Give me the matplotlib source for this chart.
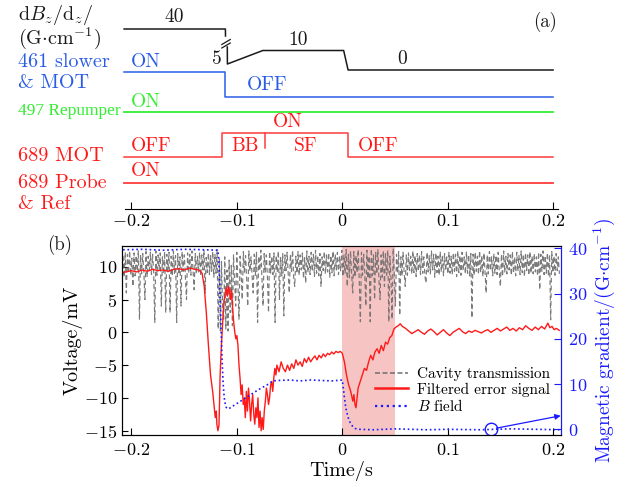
import matplotlib.pyplot as plt
import numpy as np

plt.rcParams['font.family'] = 'serif'
plt.rcParams['font.serif'] = ['cmr10']
plt.rcParams['mathtext.fontset'] = 'cm'
plt.rcParams['axes.formatter.use_mathtext'] = True

# ---------------- panel (a): timing sequence ----------------
# levels are schematic heights (pixel rows counted from the top of panel a)
grad_t1 = [-0.207, -0.1109, -0.1108]
grad_y1 = [29, 29, 36]
grad_t2 = [-0.1091, -0.1090, -0.0754, 0.0013, 0.0055, 0.2]
grad_y2 = [47, 64, 50.5, 50.5, 70, 70]
slower_t = [-0.207, -0.1112, -0.1112, 0.2]
slower_y = [72, 72, 97, 97]
repump_t = [-0.207, 0.2]
repump_y = [112, 112]
mot_t = [-0.207, -0.1137, -0.1137, 0.0058, 0.0058, 0.2]
mot_y = [157, 157, 133, 133, 157, 157]
bb_sf_t = [-0.0736, -0.0736]
bb_sf_y = [133, 148]
probe_t = [-0.207, 0.2]
probe_y = [183, 183]

# ---------------- panel (b): measured signals ----------------
# cavity transmission (mV), uniformly sampled from -0.208 s to 0.206 s
cavity_v = [
    11.6, 8.4, 12.2, 6.0, 11.9, 9.0, 12.4, 8.7, 11.3, 7.0,
    12.1, 8.6, 11.7, 9.3, 12.5, 2.0, 11.8, 8.9, 12.0, 9.2,
    5.0, 12.3, 8.5, 11.6, 9.4, 12.2, 8.8, 11.9, 9.1, 1.5,
    12.4, 8.7, 11.8, 9.6, 12.1, 4.0, 11.5, 8.9, 12.3, 3.0,
    11.9, 9.2, 12.2, 3.0, 11.6, 8.6, 12.4, 9.0, 11.7, 1.5,
    12.0, 8.8, 11.5, 4.0, 12.3, 9.3, 11.8, 8.5, 5.0, 12.1,
    9.0, 11.9, 8.7, 12.4, 9.4, 6.5, 12.0, 8.9, 11.6, 9.2,
    12.2, 8.6, 11.8, 9.5, 12.5, 6.0, 11.4, 9.1, 12.1, 8.8,
    11.7, 9.3, 12.3, 8.4, 11.9, 9.0, 12.6, 0.5, 11.2, 0.2,
    10.8, 4.0, 2.0, 11.5, 0.5, 9.5, 0.2, 11.0, 3.0, 10.2,
    1.0, 11.8, 8.0, 4.0, 12.2, 7.5, 2.0, 11.6, 8.8, 5.0,
    12.3, 9.0, 11.7, 8.2, 4.0, 12.4, 9.3, 11.5, 8.6, 6.0,
    11.9, 8.7, 12.2, 1.5, 11.6, 9.4, 12.5, 8.3, 4.0, 12.0,
    9.1, 11.8, 8.5, 3.0, 12.3, 9.0, 11.6, 8.8, 12.1, 1.5,
    11.7, 9.2, 12.4, 5.0, 11.5, 8.6, 12.0, 2.5, 11.8, 9.4,
    12.2, 8.9, 6.0, 11.9, 9.3, 12.5, 8.4, 7.0, 11.6, 9.0,
    12.3, 8.7, 11.8, 9.5, 12.1, 8.2, 11.4, 7.5, 12.4, 9.1,
    11.6, 8.8, 12.2, 9.3, 11.9, 8.5, 12.5, 9.0, 11.7, 8.6,
    12.0, 7.0, 11.5, 9.4, 12.3, 8.9, 11.8, 9.2, 12.1, 8.4,
    11.7, 9.1, 12.4, 8.6, 11.9, 9.5, 12.2, 8.8, 11.6, 9.3,
    12.5, 8.5, 11.8, 9.0, 12.6, 7.0, 11.9, 8.3, 12.4, 8.9,
    6.0, 12.3, 8.4, 11.7, 9.1, 12.6, 7.8, 1.6, 12.2, 8.7,
    11.9, 9.0, 4.0, 12.5, 8.2, 11.6, 1.6, 12.7, 8.6, 11.8,
    5.0, 12.2, 8.9, 12.6, 7.9, 5.0, 11.8, 8.4, 12.4, 7.0,
    12.0, 8.7, 12.5, 1.6, 11.6, 8.3, 2.0, 12.8, 8.8, 4.0,
    11.9, 9.0, 12.3, 2.6, 11.5, 8.6, 12.2, 9.2, 7.0, 11.8,
    8.7, 12.1, 9.4, 11.6, 8.9, 12.4, 9.1, 11.7, 8.5, 12.0,
    9.3, 11.8, 8.8, 12.3, 9.0, 11.5, 8.6, 7.5, 12.2, 9.2,
    11.7, 8.9, 12.4, 9.5, 11.9, 8.4, 12.1, 9.1, 11.6, 8.7,
    12.3, 9.2, 11.8, 8.6, 12.0, 9.4, 11.5, 8.9, 12.2, 9.0,
    11.6, 8.8, 12.1, 9.3, 11.9, 8.5, 12.4, 9.1, 11.7, 8.7,
    12.2, 9.4, 11.5, 8.9, 12.3, 9.0, 11.8, 8.6, 12.0, 2.2,
    11.9, 8.7, 12.2, 9.3, 11.6, 8.8, 12.4, 9.1, 11.7, 8.5,
    12.1, 9.2, 6.0, 11.8, 8.9, 12.3, 9.4, 11.5, 8.6, 12.0,
    9.0, 11.7, 8.8, 12.2, 9.3, 7.0, 11.9, 8.5, 12.4, 9.1,
    11.6, 8.9, 12.0, 9.5, 11.8, 8.7, 12.3, 9.0, 11.5, 8.6,
    12.2, 9.3, 11.7, 8.8, 12.4, 9.1, 11.9, 8.5, 12.1, 9.4,
    11.8, 8.7, 12.3, 9.0, 11.6, 8.9, 12.0, 9.2, 11.5, 8.6,
    12.2, 6.5, 11.9, 9.3, 12.4, 8.8, 11.7, 9.0, 12.1, 8.5,
    11.8, 1.9, 12.3, 9.1, 11.6, 8.7, 12.0, 9.4, 11.5, 8.9,
]

# filtered error signal (mV)
err_t = [
    -0.208, -0.200, -0.195, -0.190, -0.185, -0.180, -0.175, -0.170, -0.165, -0.160,
    -0.155, -0.150, -0.145, -0.140, -0.136, -0.133, -0.131, -0.129, -0.127, -0.125,
    -0.123, -0.1215, -0.1205, -0.1195, -0.119, -0.118, -0.117, -0.1165, -0.116, -0.115,
    -0.114, -0.113, -0.112, -0.111, -0.110, -0.109, -0.108, -0.107, -0.106, -0.105,
    -0.104, -0.103, -0.102, -0.101, -0.100, -0.099, -0.098, -0.097, -0.096, -0.095,
    -0.094, -0.093, -0.092, -0.091, -0.090, -0.089, -0.088, -0.087, -0.086, -0.085,
    -0.084, -0.083, -0.082, -0.081, -0.080, -0.079, -0.078, -0.077, -0.076, -0.075,
    -0.074, -0.073, -0.072, -0.071, -0.070, -0.069, -0.068, -0.067, -0.066, -0.065,
    -0.064, -0.063, -0.062, -0.060, -0.058, -0.056, -0.054, -0.052, -0.050, -0.048,
    -0.046, -0.044, -0.042, -0.040, -0.038, -0.036, -0.034, -0.032, -0.030, -0.028,
    -0.026, -0.024, -0.022, -0.020, -0.018, -0.016, -0.014, -0.012, -0.010, -0.008,
    -0.006, -0.004, -0.002, 0.000, 0.002, 0.004, 0.006, 0.008, 0.010, 0.011,
    0.012, 0.013, 0.014, 0.015, 0.017, 0.019, 0.021, 0.023, 0.025, 0.027,
    0.029, 0.031, 0.033, 0.035, 0.037, 0.039, 0.041, 0.043, 0.045, 0.047,
    0.049, 0.051, 0.053, 0.055, 0.057, 0.060, 0.063, 0.066, 0.069, 0.072,
    0.075, 0.078, 0.081, 0.084, 0.087, 0.090, 0.093, 0.096, 0.099, 0.102,
    0.105, 0.108, 0.111, 0.114, 0.117, 0.120, 0.123, 0.126, 0.129, 0.132,
    0.135, 0.138, 0.141, 0.144, 0.147, 0.150, 0.153, 0.156, 0.159, 0.162,
    0.165, 0.168, 0.171, 0.174, 0.177, 0.180, 0.183, 0.186, 0.189, 0.192,
    0.195, 0.197, 0.199, 0.201, 0.203, 0.206,
]
err_v = [
    9.1, 9.4, 9.2, 9.5, 9.3, 9.6, 9.4, 9.5, 9.3, 9.6,
    9.7, 9.5, 9.8, 9.6, 9.5, 9.0, 7.0, 3.0, -2.0, -6.5,
    -9.0, -11.5, -13.0, -12.0, -14.0, -15.0, -14.2, -11.0, -7.0, -3.0,
    0.0, 3.0, 5.0, 6.0, 6.8, 5.5, 7.0, 6.2, 5.0, 6.5,
    3.5, 1.5, 0.0, -1.0, -0.5, -2.0, -5.0, -7.0, -9.5, -8.0,
    -11.0, -10.0, -13.0, -9.0, -12.0, -8.5, -10.5, -13.5, -11.0, -9.5,
    -12.5, -14.0, -11.5, -13.0, -10.0, -14.5, -12.0, -15.0, -13.0, -14.8,
    -12.0, -10.5, -8.5, -9.5, -11.0, -10.0, -8.0, -7.5, -9.0, -7.0,
    -5.5, -6.5, -5.0, -6.0, -4.5, -5.5, -6.0, -5.0, -5.8, -4.8,
    -5.5, -4.2, -5.0, -4.5, -5.2, -4.0, -4.6, -3.8, -4.5, -4.0,
    -3.6, -4.2, -3.5, -3.9, -3.3, -3.7, -3.2, -3.4, -3.0, -3.3,
    -2.9, -3.1, -2.9, -3.2, -4.5, -6.5, -8.0, -9.0, -10.5, -9.5,
    -11.0, -11.5, -10.0, -8.5, -7.5, -6.5, -5.5, -5.8, -4.5, -3.5,
    -4.2, -3.0, -2.5, -3.2, -2.0, -2.8, -1.5, -1.8, -0.8, -0.5,
    0.5, 0.8, 1.0, 1.3, 0.9, 0.6, 0.2, -0.2, 0.1, 0.4,
    0.0, -0.3, 0.2, 0.5, 0.1, -0.4, 0.0, 0.4, -0.1, -0.5,
    0.0, 0.3, 0.6, 0.1, -0.2, 0.2, 0.0, 0.3, 0.1, -0.1,
    0.2, 0.4, 0.0, 0.3, 0.6, 0.2, 0.5, 0.8, 0.3, 0.6,
    0.2, 0.7, 0.4, 1.0, 0.6, 0.3, 0.8, 0.4, 0.9, 0.5,
    1.4, 0.7, 0.9, 0.4, 0.6, 0.3,
]

# magnetic gradient (G/cm)
bfield_t = [-0.208, -0.19, -0.17, -0.15, -0.13, -0.118, -0.117, -0.116, -0.115, -0.114,
            -0.113, -0.112, -0.111, -0.110, -0.109, -0.108, -0.100, -0.090, -0.080, -0.070,
            -0.066, -0.060, -0.050, -0.040, -0.030, -0.020, -0.010, 0.000, 0.001, 0.002,
            0.003, 0.004, 0.006, 0.008, 0.010, 0.012, 0.015, 0.030, 0.050, 0.080,
            0.100, 0.130, 0.160, 0.206]
bfield_v = [39.7, 39.8, 39.6, 39.8, 39.7, 39.6, 37.0, 30.0, 22.0, 15.0,
            10.0, 7.0, 5.5, 4.8, 4.6, 4.5, 5.7, 7.2, 8.7, 10.0,
            10.7, 10.8, 10.9, 10.7, 10.9, 10.8, 10.7, 10.9, 9.0, 7.0,
            5.3, 4.0, 2.3, 1.2, 0.6, 0.2, 0.0, -0.1, 0.1, -0.1,
            0.0, -0.1, 0.1, -0.1]

time_ticks = [-0.2, -0.1, 0, 0.1, 0.2]
time_labels = ['$-0.2$', '$-0.1$', '$0$', '$0.1$', '$0.2$']
shade_span = (0.0, 0.0503)

W, H = 632, 487
BLACK = '#1a1a1a'
BLUE_A = '#2b5ce6'
GREEN = '#33ee33'
RED_A = '#ff3b3b'
RED = '#ff1a1a'
BLUE = '#1a1aff'
GRAY = '#6c6c6c'
TICK_FS = 13


def px(x, y):
    # pixel position (from top-left) -> figure fraction
    return x / W, 1 - y / H


def draw_timing(ax):
    ax.plot(grad_t1, grad_y1, color=BLACK, lw=1.1)
    ax.plot(grad_t2, grad_y2, color=BLACK, lw=1.1)
    # break marks on the gradient step
    tb = grad_t1[-1]
    for dy in (0, 3.5):
        ax.plot([tb - 0.0035, tb + 0.0045], [44.5 + dy, 39.5 + dy], color=BLACK, lw=0.9)
    ax.plot(slower_t, slower_y, color=BLUE_A, lw=1.1)
    ax.plot(repump_t, repump_y, color=GREEN, lw=1.3)
    ax.plot(mot_t, mot_y, color=RED_A, lw=1.1)
    ax.plot(bb_sf_t, bb_sf_y, color=RED_A, lw=1.1)
    ax.plot(probe_t, probe_y, color=RED_A, lw=1.3)

    fs = 14
    kw = dict(ha='center', va='center', fontsize=fs)
    ax.text(-0.159, 17, '40', color=BLACK, **kw)
    ax.text(-0.119, 59, '5', color=BLACK, **kw)
    ax.text(-0.0423, 40, '10', color=BLACK, **kw)
    ax.text(0.0565, 59, '0', color=BLACK, **kw)
    ax.text(-0.1866, 62, 'ON', color=BLUE_A, **kw)
    ax.text(-0.0717, 85, 'OFF', color=BLUE_A, **kw)
    ax.text(-0.1866, 102, 'ON', color=GREEN, **kw)
    ax.text(-0.0518, 122, 'ON', color=RED, **kw)
    ax.text(-0.1809, 146, 'OFF', color=RED, **kw)
    ax.text(-0.0926, 146, 'BB', color=RED, **kw)
    ax.text(-0.0347, 146, 'SF', color=RED, **kw)
    ax.text(0.0337, 146, 'OFF', color=RED, **kw)
    ax.text(-0.1866, 171, 'ON', color=RED, **kw)
    ax.text(0.1925, 22, '(a)', color=BLACK, ha='center', va='center', fontsize=13.5)

    ax.set_xlim(-0.209, 0.2075)
    ax.set_ylim(209, 0)
    for s in ('top', 'left', 'right'):
        ax.spines[s].set_visible(False)
    ax.spines['bottom'].set_bounds(-0.2065, 0.2045)
    ax.set_yticks([])
    ax.set_xticks(time_ticks, time_labels)
    ax.tick_params(axis='x', direction='in', length=5, pad=3, labelsize=TICK_FS)


fig = plt.figure(figsize=(W / 100, H / 100), dpi=100)

ax_a = fig.add_axes([122 / W, 1 - 209 / H, 439 / W, 209 / H])
draw_timing(ax_a)

# row labels of panel (a)
lab = dict(ha='left', va='center', fontsize=14.5)
fig.text(*px(18, 15), r'd$B_z$/d$_z$/', color=BLACK, **lab)
fig.text(*px(18, 38), r'(G$\cdot$cm$^{-1}$)', color=BLACK, **lab)
fig.text(*px(18, 62), '461 slower', color=BLUE_A, **lab)
fig.text(*px(18, 83), '& MOT', color=BLUE_A, **lab)
fig.text(*px(18, 111), '497 Repumper', color=GREEN, ha='left', va='center',
         fontsize=12.5, family='Liberation Serif')
fig.text(*px(18, 156), '689 MOT', color=RED, **lab)
fig.text(*px(18, 183), '689 Probe', color=RED, **lab)
fig.text(*px(18, 204), '& Ref', color=RED, **lab)
fig.text(*px(60, 245), '(b)', color=BLACK, ha='center', va='center', fontsize=13.5)

# ---------------- panel (b) ----------------
ax = fig.add_axes([122 / W, 52 / H, 439 / W, 189.3 / H])
ax2 = ax.twinx()

cavity_t = np.linspace(-0.208, 0.206, len(cavity_v))
ax.axvspan(*shade_span, color='#f7c4c4', lw=0, zorder=0)
l1, = ax.plot(cavity_t, cavity_v, color=GRAY, lw=0.85, ls=(0, (4, 2.5)), alpha=0.9,
              label='Cavity transmission')
l2, = ax.plot(err_t, err_v, color=RED, lw=1.0, label='Filtered error signal')
l3, = ax2.plot(bfield_t, bfield_v, color=BLUE, lw=1.2, ls=':', label='$B$ field')

# marker on the B-field baseline with arrow to the right axis
ax2.plot([0.1415], [0.0], marker='o', ms=9, mfc='none', mec=BLUE, mew=1.0)
ax2.annotate('', xy=(0.2072, 3.0), xytext=(0.1462, 0.25),
             arrowprops=dict(arrowstyle='-|>', color=BLUE, lw=0.9,
                             mutation_scale=8, shrinkA=0, shrinkB=0))

ax.set_xlim(-0.209, 0.2075)
ax.set_ylim(-15.65, 13.2)
ax2.set_ylim(-1.26, 40.6)
ax.set_xticks(time_ticks, time_labels)
ax.set_yticks([-15, -10, -5, 0, 5, 10])
ax2.set_yticks([0, 10, 20, 30, 40])

ax.tick_params(axis='x', direction='in', length=5, pad=5, labelsize=TICK_FS, top=False)
ax.tick_params(axis='y', direction='in', length=4, pad=3.5, labelsize=TICK_FS)
ax2.tick_params(axis='y', direction='in', length=5, pad=5, labelsize=TICK_FS,
                colors=BLUE)
ax2.spines['right'].set_color(BLUE)

ax.set_xlabel('Time/s', fontsize=14.5, labelpad=2)
ax.set_ylabel('Voltage/mV', fontsize=14.5, labelpad=1)
ax2.set_ylabel(r'Magnetic gradient/(G$\cdot$cm$^{-1}$)', fontsize=14, color=BLUE,
               labelpad=3)

leg = ax2.legend(handles=[l1, l2, l3], loc='upper left', bbox_to_anchor=(0.576, 0.36),
                 frameon=False, fontsize=11, handlelength=2.2, handletextpad=0.55,
                 labelspacing=0.1, borderpad=0, borderaxespad=0)
leg_lines = leg.get_lines()
leg_lines[0].set_linewidth(1.2)
leg_lines[0].set_linestyle((0, (3, 1.5)))
leg_lines[1].set_linewidth(1.8)
leg_lines[2].set_linewidth(1.6)

fig.savefig('out.png', dpi=100)
